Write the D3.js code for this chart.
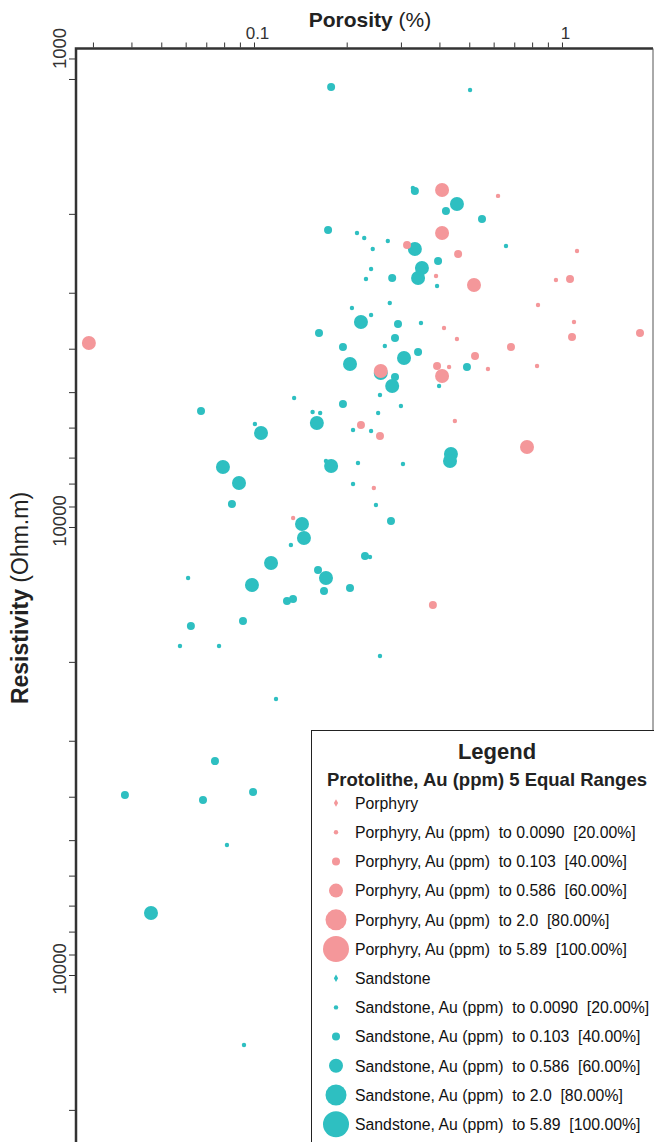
<!DOCTYPE html>
<html>
<head>
<meta charset="utf-8">
<script src="https://cdnjs.cloudflare.com/ajax/libs/d3/7.8.5/d3.min.js"></script>
<style>
  body { margin: 0; background: #fff; }
  svg { display: block; font-family: "Liberation Sans", Arial, sans-serif; }
</style>
</head>
<body>
<div id="chart"></div>
<script>
// Porphyry samples: porosity (%), resistivity (Ohm.m), Au (ppm)
const porphyryPorosity = [0.0291, 0.408, 0.620, 0.314, 0.408, 0.460, 0.518, 0.390, 0.956, 1.062,
  1.119, 0.836, 1.094, 1.078, 1.792, 0.414, 0.456, 0.683, 0.522, 0.258,
  0.393, 0.408, 0.430, 0.575, 0.830, 0.449, 0.2225, 0.2565, 0.770, 0.245,
  0.134, 0.381];
const porphyryResistivity = [3885, 1769, 1824, 2347, 2207, 2459, 2883, 2753, 2810, 2795,
  2421, 3195, 3486, 3767, 3690, 3596, 3806, 3965, 4153, 4486,
  4372, 4603, 4395, 4440, 4372, 5800, 5921, 6265, 6629, 8184,
  9548, 14932];
const porphyryAu = [0.3, 0.3, 0.005, 0.05, 0.3, 0.05, 0.3, 0.005, 0.005, 0.05,
  0.005, 0.005, 0.005, 0.05, 0.05, 0.005, 0.005, 0.05, 0.05, 0.3,
  0.05, 0.3, 0.005, 0.005, 0.005, 0.005, 0.05, 0.05, 0.3, 0.005,
  0.005, 0.05];

// Sandstone samples
const sandstonePorosity = [0.178, 0.503, 0.328, 0.333, 0.420, 0.456, 0.550, 0.174, 0.216, 0.228,
  0.272, 0.243, 0.333, 0.658, 0.396, 0.351, 0.240, 0.231, 0.281, 0.341,
  0.393, 0.208, 0.276, 0.2225, 0.240, 0.2935, 0.3485, 0.1626, 0.287, 0.266,
  0.1945, 0.341, 0.307, 0.205, 0.258, 0.287, 0.281, 0.4915, 0.399, 0.2565,
  0.135, 0.0673, 0.155, 0.1945, 0.300, 0.164, 0.160, 0.253, 0.1007, 0.1054,
  0.2097, 0.240, 0.436, 0.433, 0.1713, 0.178, 0.0793, 0.2176, 0.3046, 0.0894,
  0.2097, 0.0848, 0.2489, 0.1432, 0.2785, 0.1453, 0.1318, 0.2293, 0.238, 0.1136,
  0.1614, 0.1713, 0.0611, 0.0985, 0.205, 0.1688, 0.1339, 0.128, 0.0624, 0.0921,
  0.0575, 0.077, 0.2565, 0.1179, 0.0747, 0.0381, 0.0993, 0.0683, 0.0817, 0.0463,
  0.0928];
const sandstoneResistivity = [1042, 1058, 1751, 1778, 1971, 1901, 2054, 2173, 2207, 2264,
  2299, 2396, 2396, 2359, 2549, 2642, 2655, 2795, 2781, 2781,
  2898, 3245, 3162, 3486, 3364, 3523, 3504, 3690, 3786, 3945,
  3965, 4068, 4196, 4328, 4532, 4627, 4845, 4395, 4845, 5075,
  5154, 5510, 5538, 5314, 5370, 5566, 5860, 5566, 5890, 6169,
  6075, 6106, 6872, 7124, 7124, 7309, 7347, 7197, 7235, 7976,
  8017, 8886, 8932, 9847, 9696, 10580, 10970, 11605, 11670, 12033,
  12473, 12996, 12996, 13475, 13685, 13898, 14479, 14628, 16634, 16210,
  18440, 18440, 19408, 24210, 33310, 39650, 39040, 40680, 51270, 72710,
  143300];
const sandstoneAu = [0.05, 0.005, 0.005, 0.05, 0.05, 0.3, 0.05, 0.05, 0.005, 0.005,
  0.005, 0.005, 0.3, 0.005, 0.05, 0.3, 0.005, 0.005, 0.05, 0.3,
  0.005, 0.005, 0.005, 0.3, 0.005, 0.05, 0.005, 0.05, 0.05, 0.005,
  0.05, 0.05, 0.3, 0.3, 0.3, 0.05, 0.3, 0.05, 0.005, 0.005,
  0.005, 0.05, 0.005, 0.05, 0.005, 0.005, 0.3, 0.005, 0.005, 0.3,
  0.005, 0.005, 0.3, 0.3, 0.005, 0.3, 0.3, 0.005, 0.005, 0.3,
  0.005, 0.05, 0.005, 0.3, 0.05, 0.3, 0.005, 0.05, 0.005, 0.3,
  0.05, 0.3, 0.005, 0.3, 0.05, 0.05, 0.05, 0.05, 0.05, 0.05,
  0.005, 0.005, 0.005, 0.005, 0.05, 0.05, 0.05, 0.05, 0.005, 0.3,
  0.005];

// Au classes (5 equal ranges)
const auBreaks = [0.009, 0.103, 0.586, 2.0];
const auLabels = ['0.0090', '0.103', '0.586', '2.0', '5.89'];
const auPercents = ['20.00%', '40.00%', '60.00%', '80.00%', '100.00%'];
const protolithes = ['Porphyry', 'Sandstone'];
const colors = { Porphyry: '#f4979a', Sandstone: '#2ebfc1' };

const width = 654, height = 1142;
const svg = d3.select('#chart').append('svg')
    .attr('width', width)
    .attr('height', height);

// Scales (log on both axes)
const x = d3.scaleLog().domain([0.02643, 1.975]).range([76, 653]);
const y = d3.scaleLog().domain([855, 235900]).range([48.5, 1142]);
const r = d3.scaleThreshold().domain(auBreaks).range([2.2, 4, 7, 10.5, 13]);

// Top axis
const xAxis = svg.append('g')
    .attr('transform', `translate(0,${y.range()[0] - 1})`)
    .call(d3.axisTop(x).tickSize(5).tickFormat(d => (d === 0.1 || d === 1) ? d3.format('')(d) : ''));
xAxis.select('.domain').remove();
xAxis.selectAll('line').attr('stroke', '#333');
xAxis.selectAll('text')
    .attr('fill', '#333')
    .attr('font-size', 17)
    .attr('dx', 3)
    .attr('dy', -1);

// Left axis
const yAxis = svg.append('g')
    .attr('transform', `translate(${x.range()[0] - 1},0)`)
    .call(d3.axisLeft(y).tickSize(6).tickFormat(''));
yAxis.select('.domain').remove();
yAxis.selectAll('line').attr('stroke', '#333');

const yLabels = [1000, 10000, 100000];
const yLabelText = ['1000', '10000', '10000'];
svg.append('g').selectAll('text')
    .data(yLabels)
    .join('text')
    .attr('transform', d => `translate(66,${d === 1000 ? y.range()[0] : y(d) - 6}) rotate(-90)`)
    .attr('text-anchor', 'middle')
    .attr('font-size', 18.5)
    .attr('fill', '#333')
    .text((d, i) => yLabelText[i]);

// Frame
svg.append('path')
    .attr('d', `M${x.range()[0]},${height}V${y.range()[0]}H${x.range()[1]}`)
    .attr('fill', 'none')
    .attr('stroke', '#333')
    .attr('stroke-width', 2.5);
svg.append('line')
    .attr('x1', x.range()[1]).attr('x2', x.range()[1])
    .attr('y1', y.range()[0]).attr('y2', height)
    .attr('stroke', '#555')
    .attr('stroke-width', 1);

// Axis titles
const xTitle = svg.append('text')
    .attr('x', 370)
    .attr('y', 27)
    .attr('text-anchor', 'middle')
    .attr('font-size', 21)
    .attr('fill', '#222');
xTitle.append('tspan').attr('font-weight', 'bold').text('Porosity');
xTitle.append('tspan').text(' (%)');

const yTitle = svg.append('text')
    .attr('transform', 'translate(28,598) rotate(-90)')
    .attr('text-anchor', 'middle')
    .attr('font-size', 23)
    .attr('fill', '#222');
yTitle.append('tspan').attr('font-weight', 'bold').text('Resistivity');
yTitle.append('tspan').text(' (Ohm.m)');

// Points
function toPoints(name, px, py, au) {
    return px.map((p, i) => ({ name, porosity: p, resistivity: py[i], au: au[i] }));
}
const points = toPoints('Sandstone', sandstonePorosity, sandstoneResistivity, sandstoneAu)
    .concat(toPoints('Porphyry', porphyryPorosity, porphyryResistivity, porphyryAu));

svg.append('g')
    .selectAll('circle')
    .data(points)
    .join('circle')
    .attr('cx', d => x(d.porosity))
    .attr('cy', d => y(d.resistivity))
    .attr('r', d => r(d.au))
    .attr('fill', d => colors[d.name]);

// Legend
const legend = svg.append('g');
legend.append('rect')
    .attr('x', 311.5)
    .attr('y', 730.5)
    .attr('width', 360)
    .attr('height', 450)
    .attr('fill', '#fff')
    .attr('stroke', '#222')
    .attr('stroke-width', 1);
legend.append('text')
    .attr('x', 497)
    .attr('y', 759)
    .attr('text-anchor', 'middle')
    .attr('font-size', 22)
    .attr('font-weight', 'bold')
    .attr('fill', '#222')
    .text('Legend');
legend.append('text')
    .attr('x', 487)
    .attr('y', 786)
    .attr('text-anchor', 'middle')
    .attr('font-size', 18.5)
    .attr('font-weight', 'bold')
    .attr('fill', '#222')
    .text('Protolithe, Au (ppm) 5 Equal Ranges');

const rows = [];
protolithes.forEach(name => {
    rows.push({ name, text: name, base: true });
    auLabels.forEach((lab, i) => {
        rows.push({ name, text: `${name}, Au (ppm)  to ${lab}  [${auPercents[i]}]`, radius: r.range()[i] });
    });
});

const row = legend.selectAll('g.row')
    .data(rows)
    .join('g')
    .attr('class', 'row')
    .attr('transform', (d, i) => `translate(336,${803 + i * 29.2})`);
row.filter(d => d.base).append('path')
    .attr('d', d3.symbol(d3.symbolDiamond, 16))
    .attr('fill', d => colors[d.name]);
row.filter(d => !d.base).append('circle')
    .attr('r', d => d.radius)
    .attr('fill', d => colors[d.name]);
row.append('text')
    .attr('x', 19)
    .attr('dy', '0.36em')
    .attr('font-size', 15.8)
    .attr('fill', '#111')
    .style('white-space', 'pre')
    .text(d => d.text);
</script>
</body>
</html>
